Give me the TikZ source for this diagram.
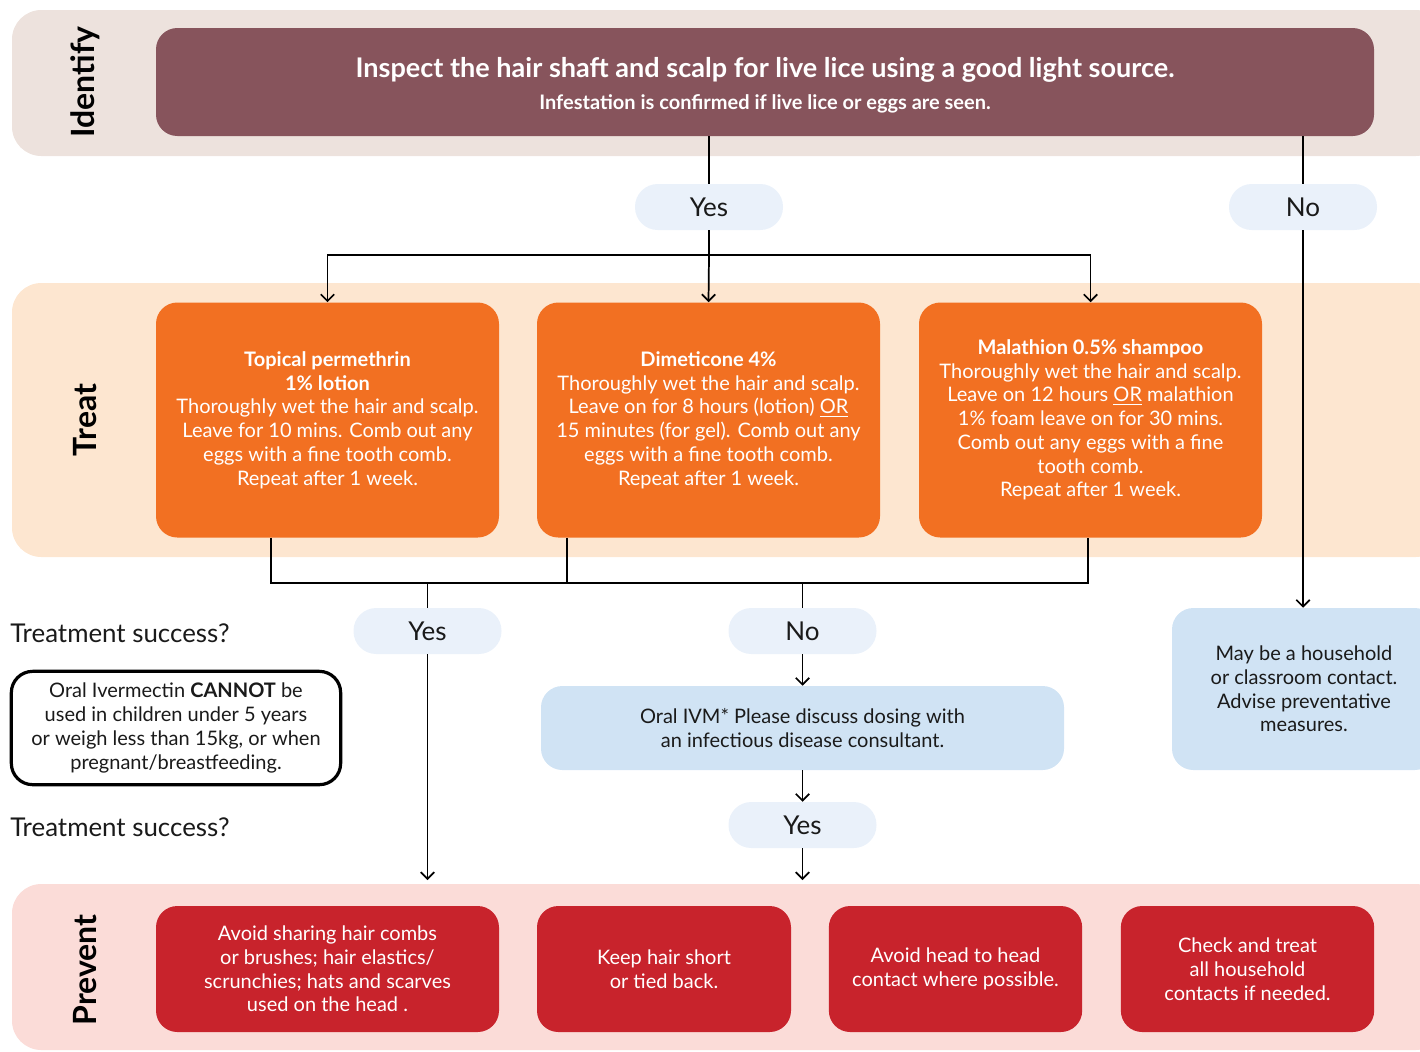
\documentclass[tikz,border=0pt]{standalone}
\usepackage{fontspec}
\setmainfont{Lato}
\usetikzlibrary{arrows.meta}
\definecolor{bandid}{HTML}{EDE2DD}
\definecolor{bandtr}{HTML}{FDE6D0}
\definecolor{bandpr}{HTML}{FBDCD8}
\definecolor{maroon}{HTML}{87545C}
\definecolor{orng}{HTML}{F27022}
\definecolor{pillblue}{HTML}{EAF1FA}
\definecolor{ltblue}{HTML}{D0E3F4}
\definecolor{redbox}{HTML}{C8232C}
\definecolor{ink}{HTML}{1A1A1A}
\begin{document}
\begin{tikzpicture}[x=0.75pt,y=-0.75pt,
  bodyfont/.style={font=\fontsize{15}{17.8}\selectfont},
  box/.style={rectangle, rounded corners=16pt, align=center, inner sep=0pt, text=white},
  tbox/.style={box, fill=orng, minimum width=257.25pt, minimum height=176.25pt, bodyfont},
  pbox/.style={box, fill=redbox, minimum height=94.5pt, bodyfont},
  pill/.style={rectangle, rounded corners=17pt, fill=pillblue, minimum width=111pt, minimum height=34.5pt, inner sep=0pt, font=\fontsize{19.5}{22}\selectfont, text=ink},
  lbox/.style={box, fill=ltblue, text=ink, bodyfont},
  bandlabel/.style={rotate=90, font=\fontsize{24}{26}\selectfont\bfseries, text=black},
  conn/.style={line width=1.3pt, draw=black},
  arr/.style={conn, -{Straight Barb[length=5pt,width=10pt]}}
]
\useasboundingbox (0,0) rectangle (1420,1051);
\clip (0,0) rectangle (1420,1051);
% bands
\fill[bandid, rounded corners=22pt] (12,10) rectangle (1445,156);
\fill[bandtr, rounded corners=22pt] (12,283) rectangle (1445,557);
\fill[bandpr, rounded corners=22pt] (12,884) rectangle (1445,1050);
\node[bandlabel] (lid) at (85,82) {Identify};
\node[bandlabel] (ltr) at (85,420) {Treat};
\node[bandlabel] (lpr) at (85,970) {Prevent};
% identify
\node[box, fill=maroon, minimum width=913.5pt, minimum height=81pt, font=\fontsize{20.3}{24}\selectfont] (top) at (765,82)
  {\rule{0pt}{19.5pt}\bfseries Inspect the hair shaft and scalp for live lice using a good light source.\\[0pt]
   {\fontsize{15}{18}\selectfont\bfseries Infestation is confirmed if live lice or eggs are seen.}};
\node[pill] (yes1) at (709,207) {Yes};
\node[pill] (no1) at (1303,207) {No};
% treat
\node[tbox] (t1) at (327.5,420) {\textbf{Topical permethrin}\\\textbf{1\% lotion}\\Thoroughly wet the hair and scalp.\\Leave for 10 mins. Comb out any\\eggs with a fine tooth comb.\\Repeat after 1 week.};
\node[tbox] (t2) at (708.5,420) {\textbf{Dimeticone 4\%}\\Thoroughly wet the hair and scalp.\\Leave on for 8 hours (lotion) \underline{OR}\\15 minutes (for gel). Comb out any\\eggs with a fine tooth comb.\\Repeat after 1 week.};
\node[tbox] (t3) at (1090.5,420) {\textbf{Malathion 0.5\% shampoo}\\Thoroughly wet the hair and scalp.\\Leave on 12 hours \underline{OR} malathion\\1\% foam leave on for 30 mins.\\Comb out any eggs with a fine\\tooth comb.\\Repeat after 1 week.};
% middle
\node[anchor=west, font=\fontsize{19.4}{22}\selectfont, text=ink, inner sep=0pt] (ts1) at (10,633) {Treatment success?};
\node[anchor=west, font=\fontsize{19.4}{22}\selectfont, text=ink, inner sep=0pt] (ts2) at (10,827) {Treatment success?};
\node[pill] (yes2) at (427.5,631) {Yes};
\node[pill] (no2) at (802.5,631) {No};
\node[lbox, minimum width=392.25pt, minimum height=63pt] (ivm) at (802.5,728) {Oral IVM* Please discuss dosing with\\an infectious disease consultant.};
\node[pill] (yes3) at (802.5,825) {Yes};
\node[lbox, minimum width=198pt, minimum height=121.5pt] (house) at (1304,689) {May be a household\\or classroom contact.\\Advise preventative\\measures.};
\node[box, draw=black, line width=2.4pt, fill=white, text=ink, minimum width=247pt, minimum height=85pt, bodyfont] (warn) at (176,728) {Oral Ivermectin \textbf{CANNOT} be\\used in children under 5 years\\or weigh less than 15kg, or when\\pregnant/breastfeeding.};
% prevent
\node[pbox, minimum width=257.25pt] (p1) at (327.5,969) {Avoid sharing hair combs\\or brushes; hair elastics/\\scrunchies; hats and scarves\\used on the head .};
\node[pbox, minimum width=190.5pt] (p2) at (664,969) {Keep hair short\\or tied back.};
\node[pbox, minimum width=190pt] (p3) at (955.5,969) {Avoid head to head\\contact where possible.};
\node[pbox, minimum width=190pt] (p4) at (1247.5,969) {Check and treat\\all household\\contacts if needed.};
% connectors
\coordinate (j1) at (709,255);
\coordinate (b1) at (271,583);
\coordinate (b2) at (567,583);
\coordinate (b3) at (1088,583);
\coordinate (e1) at (427.5,880);
\coordinate (e2) at (802.5,880);
\draw[conn] (top.south -| yes1.north) -- (yes1.north);
\draw[conn] (yes1.south) -- (j1);
\draw[arr] (j1) -| (t1.north);
\draw[arr] (j1) -- (t2.north);
\draw[arr] (j1) -| (t3.north);
\draw[conn] (top.south -| no1.north) -- (no1.north);
\draw[arr] (no1.south) -- (house.north -| no1.south);
\draw[conn] (t1.south -| b1) -- (b1) -- (b3) -- (t3.south -| b3);
\draw[conn] (t2.south -| b2) -- (b2);
\draw[conn] (yes2.north |- b1) -- (yes2.north);
\draw[conn] (no2.north |- b1) -- (no2.north);
\draw[arr] (yes2.south) -- (e1);
\draw[arr] (no2.south) -- (ivm.north);
\draw[arr] (ivm.south) -- (yes3.north);
\draw[arr] (yes3.south) -- (e2);
\end{tikzpicture}
\end{document}
